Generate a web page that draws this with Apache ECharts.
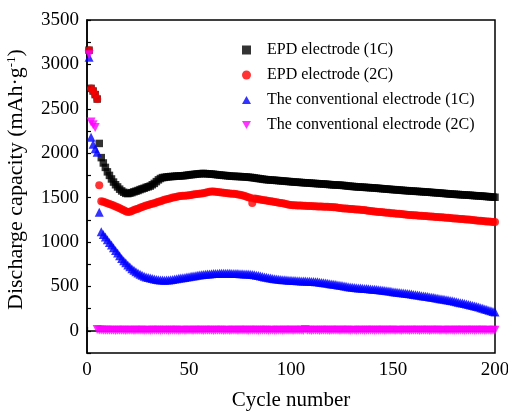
<!DOCTYPE html>
<html>
<head>
<meta charset="utf-8">
<script src="https://cdn.jsdelivr.net/npm/echarts@6/dist/echarts.min.js"></script>
<style>
  html, body { margin: 0; padding: 0; background: #fff; }
  #chart { width: 508px; height: 411px; }
</style>
</head>
<body>
<div id="chart"></div>
<script>
// Cycle numbers 1..200
var cycles = [];
for (var i = 1; i <= 200; i++) cycles.push(i);

var seriesNames = [
  'EPD electrode (1C)',
  'EPD electrode (2C)',
  'The conventional electrode (1C)',
  'The conventional electrode (2C)'
];

// Discharge capacity (mAh/g) per cycle
var epd1C = [
  3160, 2730, 2700, 2660, 2610, 2110, 1950, 1890, 1840, 1790,
  1750, 1710, 1675, 1645, 1620, 1595, 1575, 1560, 1548, 1545,
  1550, 1556, 1565, 1572, 1580, 1590, 1598, 1605, 1615, 1622,
  1630, 1645, 1660, 1680, 1700, 1715, 1725, 1728, 1732, 1735,
  1737, 1738, 1740, 1742, 1743, 1745, 1746, 1748, 1752, 1755,
  1758, 1760, 1763, 1766, 1768, 1770, 1772, 1770, 1768, 1767,
  1765, 1763, 1760, 1757, 1755, 1752, 1750, 1748, 1746, 1743,
  1741, 1740, 1738, 1738, 1737, 1735, 1734, 1732, 1730, 1728,
  1725, 1722, 1718, 1715, 1712, 1708, 1705, 1702, 1700, 1698,
  1697, 1695, 1693, 1691, 1689, 1687, 1685, 1683, 1681, 1679,
  1677, 1675, 1673, 1672, 1670, 1668, 1667, 1665, 1664, 1662,
  1660, 1659, 1657, 1656, 1654, 1653, 1651, 1649, 1647, 1645,
  1643, 1642, 1641, 1640, 1638, 1636, 1633, 1630, 1628, 1626,
  1624, 1622, 1620, 1619, 1617, 1616, 1614, 1613, 1611, 1610,
  1608, 1606, 1604, 1602, 1600, 1598, 1596, 1594, 1592, 1590,
  1589, 1587, 1585, 1583, 1581, 1579, 1578, 1576, 1574, 1573,
  1571, 1570, 1568, 1567, 1565, 1563, 1562, 1560, 1558, 1556,
  1555, 1553, 1551, 1549, 1547, 1545, 1543, 1541, 1539, 1538,
  1536, 1535, 1533, 1532, 1530, 1529, 1527, 1526, 1524, 1522,
  1521, 1519, 1518, 1516, 1514, 1512, 1510, 1508, 1506, 1504
];

var epd2C = [
  3160, 2730, 2700, 2660, 2610, 1640, 1460, 1452, 1445, 1437,
  1428, 1420, 1410, 1400, 1390, 1380, 1370, 1358, 1345, 1338,
  1342, 1350, 1360, 1368, 1375, 1385, 1393, 1402, 1410, 1418,
  1424, 1430, 1437, 1444, 1452, 1460, 1468, 1475, 1482, 1488,
  1494, 1500, 1505, 1510, 1514, 1518, 1520, 1522, 1524, 1527,
  1530, 1534, 1538, 1541, 1544, 1547, 1550, 1555, 1560, 1565,
  1568, 1568, 1566, 1563, 1560, 1557, 1554, 1551, 1548, 1545,
  1543, 1542, 1540, 1536, 1532, 1527, 1520, 1512, 1505, 1498,
  1440, 1490, 1486, 1482, 1478, 1474, 1470, 1467, 1463, 1459,
  1455, 1451, 1447, 1443, 1439, 1435, 1430, 1425, 1420, 1416,
  1414, 1413, 1412, 1411, 1410, 1409, 1408, 1406, 1405, 1404,
  1403, 1402, 1401, 1400, 1399, 1398, 1397, 1396, 1394, 1393,
  1392, 1390, 1387, 1384, 1381, 1378, 1376, 1374, 1373, 1371,
  1369, 1367, 1365, 1363, 1361, 1359, 1356, 1353, 1350, 1347,
  1344, 1342, 1339, 1337, 1335, 1332, 1330, 1328, 1325, 1323,
  1321, 1319, 1317, 1314, 1312, 1309, 1307, 1305, 1304, 1302,
  1300, 1299, 1297, 1295, 1294, 1292, 1290, 1288, 1286, 1284,
  1282, 1281, 1280, 1278, 1276, 1274, 1272, 1270, 1268, 1266,
  1264, 1262, 1260, 1258, 1256, 1254, 1252, 1250, 1247, 1244,
  1242, 1240, 1238, 1236, 1234, 1232, 1230, 1228, 1226, 1224
];

var conv1C = [
  3080, 2180, 2100, 2050, 2010, 1335, 1115, 1085, 1055, 1025,
  995, 965, 935, 905, 875, 845, 815, 790, 765, 740,
  720, 700, 682, 665, 650, 637, 625, 615, 607, 600,
  594, 588, 583, 579, 575, 573, 571, 570, 571, 573,
  576, 579, 583, 587, 591, 595, 598, 601, 605, 609,
  613, 617, 621, 625, 628, 631, 634, 637, 639, 641,
  643, 644, 645, 646, 647, 647, 648, 648, 647, 647,
  646, 646, 645, 644, 643, 642, 641, 640, 639, 638,
  634, 630, 626, 622, 617, 612, 607, 602, 598, 594,
  590, 586, 583, 580, 578, 576, 574, 572, 570, 568,
  567, 566, 564, 563, 562, 561, 560, 559, 558, 556,
  555, 553, 551, 548, 545, 542, 538, 535, 531, 528,
  524, 520, 517, 513, 509, 505, 501, 497, 494, 491,
  488, 485, 483, 481, 479, 477, 475, 473, 471, 469,
  467, 464, 461, 459, 456, 453, 450, 447, 444, 441,
  438, 435, 432, 429, 426, 423, 420, 417, 414, 410,
  407, 403, 400, 396, 393, 389, 386, 382, 378, 374,
  370, 366, 362, 358, 354, 350, 346, 342, 337, 332,
  327, 322, 317, 312, 307, 302, 297, 291, 285, 279,
  273, 267, 260, 253, 246, 239, 232, 225, 218, 212
];

var conv2C = [
  3110, 2350, 2320, 2290, 15, 10, 8, 7, 6, 6,
  5, 6, 5, 4, 5, 6, 5, 5, 4, 5,
  6, 5, 4, 5, 5, 6, 5, 4, 5, 5,
  4, 5, 6, 5, 5, 4, 5, 6, 5, 4,
  5, 5, 6, 5, 4, 5, 5, 4, 6, 5,
  5, 4, 5, 6, 5, 5, 4, 5, 5, 6,
  5, 4, 5, 5, 6, 5, 4, 5, 5, 4,
  6, 5, 5, 4, 5, 6, 5, 5, 4, 5,
  5, 6, 5, 4, 5, 5, 6, 5, 4, 5,
  5, 4, 6, 5, 5, 4, 5, 6, 5, 5,
  4, 5, 5, 6, 5, 4, 16, 5, 5, 4,
  6, 5, 5, 4, 5, 6, 5, 5, 4, 5,
  5, 6, 5, 4, 5, 5, 6, 5, 4, 5,
  5, 4, 6, 5, 5, 4, 5, 6, 5, 5,
  4, 5, 5, 6, 5, 4, 5, 5, 6, 5,
  4, 5, 5, 4, 6, 5, 5, 4, 5, 6,
  5, 5, 4, 5, 5, 6, 5, 4, 5, 5,
  6, 5, 4, 5, 5, 4, 6, 5, 5, 4,
  5, 6, 5, 5, 4, 5, 5, 6, 5, 4,
  5, 5, 6, 5, 4, 5, 5, 4, 6, 5
];

var xTickLabels = [0, 50, 100, 150, 200];
var yTickLabels = [0, 500, 1000, 1500, 2000, 2500, 3000, 3500];

function pairs(vals) {
  return vals.map(function (v, k) { return [cycles[k], v]; });
}

var FONT = '"Liberation Serif", "Times New Roman", serif';

// Legend icons: filled square, disc, up triangle, down triangle
var legendIcons = [
  'rect',
  'circle',
  'path://M5,0 L10,9 L0,9 Z',
  'path://M0,0 L10,0 L5,9 Z'
];

var chart = echarts.init(document.getElementById('chart'), null, { renderer: 'canvas' });

chart.setOption({
  animation: false,
  backgroundColor: '#ffffff',
  textStyle: { fontFamily: FONT, color: '#000' },
  grid: {
    left: 87, right: 13, top: 20, bottom: 58,
    containLabel: false,
    outerBoundsMode: 'none',
    show: true, borderColor: '#000', borderWidth: 1.5, backgroundColor: 'transparent'
  },
  legend: {
    orient: 'vertical',
    left: 237, top: 37,
    itemWidth: 9, itemHeight: 9, itemGap: 9,
    textStyle: { fontFamily: FONT, fontSize: 16, color: '#000', lineHeight: 16, padding: [0, 0, 0, 11] },
    data: seriesNames.map(function (n, k) { return { name: n, icon: legendIcons[k] }; })
  },
  xAxis: {
    type: 'value',
    min: 0, max: 200, interval: 25,
    name: 'Cycle number',
    nameLocation: 'middle', nameGap: 37,
    nameTextStyle: { fontFamily: FONT, fontSize: 21, color: '#000' },
    axisLine: { show: true, lineStyle: { color: '#000', width: 1.5 } },
    axisTick: { show: true, inside: true, length: 4, lineStyle: { color: '#000', width: 1.2 } },
    axisLabel: {
      fontFamily: FONT, fontSize: 19, color: '#000', margin: 8,
      formatter: function (v) { return xTickLabels.indexOf(v) >= 0 ? String(v) : ''; }
    },
    splitLine: { show: false }
  },
  yAxis: {
    type: 'value',
    min: -250, max: 3500, interval: 250,
    name: 'Discharge capacity (mAh·g{sup|-1})',
    nameLocation: 'middle', nameGap: 59, nameRotate: 90,
    nameTextStyle: {
      fontFamily: FONT, fontSize: 22, color: '#000',
      padding: [0, 0, 0, 14],
      rich: { sup: { fontFamily: FONT, fontSize: 13, verticalAlign: 'top', lineHeight: 13, padding: [0, 0, 12, 0] } }
    },
    axisLine: { show: true, lineStyle: { color: '#000', width: 1.5 } },
    axisTick: { show: true, inside: true, length: 4, lineStyle: { color: '#000', width: 1.2 } },
    axisLabel: {
      fontFamily: FONT, fontSize: 19, color: '#000', margin: 8,
      formatter: function (v) { return yTickLabels.indexOf(v) >= 0 ? String(v) : ''; }
    },
    splitLine: { show: false }
  },
  series: [
    {
      name: seriesNames[0], type: 'scatter', data: pairs(epd1C),
      symbol: 'rect', symbolSize: 7.5,
      itemStyle: { color: '#000000' }
    },
    {
      name: seriesNames[1], type: 'scatter', data: pairs(epd2C),
      symbol: 'circle', symbolSize: 8,
      itemStyle: { color: '#ff0000' }
    },
    {
      name: seriesNames[2], type: 'scatter', data: pairs(conv1C),
      symbol: 'triangle', symbolSize: 9,
      itemStyle: { color: '#0000ff' }
    },
    {
      name: seriesNames[3], type: 'scatter', data: pairs(conv2C),
      symbol: 'triangle', symbolRotate: 180, symbolSize: 9,
      itemStyle: { color: '#ff00ff' }
    }
  ]
});
</script>
</body>
</html>
